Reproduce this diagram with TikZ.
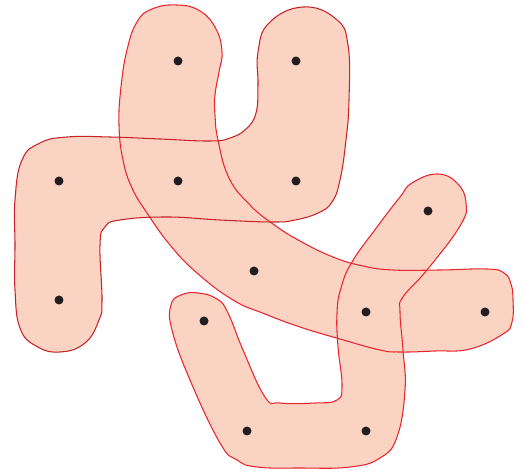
\documentclass[tikz,border=0pt]{standalone}
\usetikzlibrary{positioning}

\definecolor{hfillc}{RGB}{251,211,195}
\definecolor{hlinec}{RGB}{232,36,44}
\definecolor{hdarkc}{RGB}{198,34,40}
\definecolor{dotc}{RGB}{34,30,32}

% the three hyperedges as closed smooth curves (pixel units)
\newcommand{\edgeA}{plot[smooth cycle,tension=.75] coordinates {(127,50) (137,22) (152,9) (177,5) (200,11) (216,29) (222,52) (219,72) (215,95) (215,115) (218,140) (229,178) (250,205) (273,224) (300,241) (333,257) (363,266) (393,270) (440,270) (487,269) (504,273) (511,284) (513,300) (512,322) (503,334) (470,349) (435,351) (400,352) (380,350) (340,339) (300,327) (265,314) (233,300) (197,273) (170,245) (147,213) (132,188) (123,160) (119,125) (121,87)}}
\newcommand{\edgeB}{plot[smooth cycle,tension=.75] coordinates {(15,200) (22,160) (40,143) (67,137) (110,137) (160,139) (210,141) (230,138) (246,129) (256,113) (258,85) (258,52) (269,23) (303,7) (336,19) (348,45) (349,100) (346,140) (340,180) (332,202) (318,213) (295,220) (273,222) (220,220) (167,217) (120,220) (105,227) (100,245) (102,300) (99,320) (85,343) (60,352) (36,346) (20,328) (15,290) (15,245)}}
\newcommand{\edgeC}{plot[smooth cycle,tension=.75] coordinates {(412,183) (437,174) (457,183) (466,203) (460,226) (427,270) (403,297) (400,312) (403,350) (405,390) (397,437) (380,458) (350,467) (300,468) (257,467) (237,460) (220,443) (190,380) (172,330) (171,305) (181,295) (198,293) (217,299) (228,313) (243,350) (265,397) (280,403) (315,403) (337,400) (342,385) (338,347) (337,313) (341,288) (352,262) (377,227) (400,197)}}

\begin{document}
\begin{tikzpicture}[x=0.02cm,y=-0.02cm,
  hfill/.style={fill=hfillc},
  hline/.style={draw=hlinec,line width=.6pt},
  vert/.style={circle,fill=dotc,inner sep=0pt,minimum size=.18cm}]
\useasboundingbox (0,0) rectangle (524,472);

% fills first, outlines on top
\fill[hfill] \edgeA;
\fill[hfill] \edgeB;
\fill[hfill] \edgeC;
\draw[hline] \edgeA;
\draw[hline,draw=hdarkc] \edgeB;
\draw[hline] \edgeC;

% vertices
\node[vert] (a1) at (178,61) {};
\node[vert] (a2) at (296,61) {};
\node[vert] (b1) at (59,181) {};
\node[vert] (b2) at (178,181) {};
\node[vert] (b3) at (296,181) {};
\node[vert] (c1) at (428,211) {};
\node[vert] (d1) at (254,271) {};
\node[vert] (e1) at (59,300) {};
\node[vert] (e2) at (204,321) {};
\node[vert] (e3) at (366,312) {};
\node[vert] (e4) at (485,312) {};
\node[vert] (f1) at (247,431) {};
\node[vert] (f2) at (366,431) {};
\end{tikzpicture}
\end{document}
